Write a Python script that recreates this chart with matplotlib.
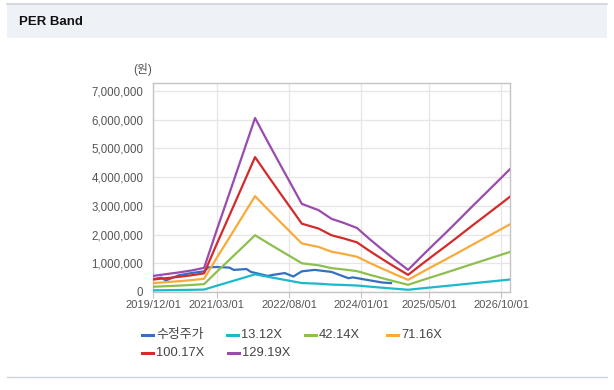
import matplotlib
matplotlib.use("Agg")
import matplotlib.pyplot as plt
import matplotlib.dates as mdates
from matplotlib.ticker import FuncFormatter, MultipleLocator
from matplotlib.patches import Rectangle
from matplotlib.lines import Line2D
import pandas as pd

plt.rcParams['font.family'] = ['Liberation Sans', 'Noto Sans CJK KR', 'DejaVu Sans']

# ---------------- data ----------------
band_dates = ["2019-12-01", "2020-03-01", "2020-06-01", "2020-09-01", "2020-12-01",
              "2021-03-01", "2021-06-01", "2021-09-01", "2021-12-01", "2022-03-01",
              "2022-06-01", "2022-09-01", "2022-11-01", "2023-03-01", "2023-06-01",
              "2023-09-01", "2023-12-01", "2024-03-01", "2024-06-01", "2024-09-01",
              "2024-12-01", "2025-03-01", "2025-06-01", "2025-09-01", "2025-12-01",
              "2026-03-01", "2026-06-01", "2026-09-01", "2026-12-01"]

per_13_12 = [57000, 63000, 69000, 76000, 85000, 218000, 350000, 483000, 615000, 532000,
             449000, 367000, 312000, 289000, 259000, 244000, 226000, 187000, 149000, 113000,
             78000, 123000, 168000, 211000, 256000, 301000, 345000, 390000, 435000]
per_42_14 = [183000, 202000, 222000, 245000, 274000, 701000, 1125000, 1553000, 1977000, 1709000,
             1442000, 1178000, 1001000, 930000, 832000, 783000, 727000, 600000, 480000, 362000,
             251000, 395000, 538000, 679000, 822000, 966000, 1109000, 1253000, 1396000]
per_71_16 = [308000, 341000, 375000, 413000, 463000, 1184000, 1900000, 2622000, 3338000, 2886000,
             2435000, 1988000, 1691000, 1570000, 1405000, 1322000, 1228000, 1013000, 810000, 611000,
             424000, 666000, 909000, 1146000, 1388000, 1630000, 1873000, 2115000, 2357000]
per_100_17 = [434000, 481000, 527000, 582000, 651000, 1667000, 2675000, 3691000, 4699000, 4063000,
              3427000, 2799000, 2380000, 2210000, 1977000, 1861000, 1729000, 1427000, 1140000, 861000,
              597000, 938000, 1279000, 1613000, 1954000, 2295000, 2636000, 2978000, 3319000]
per_129_19 = [560000, 620000, 680000, 750000, 840000, 2150000, 3450000, 4760000, 6060000, 5240000,
              4420000, 3610000, 3070000, 2850000, 2550000, 2400000, 2230000, 1840000, 1470000, 1110000,
              770000, 1210000, 1650000, 2080000, 2520000, 2960000, 3400000, 3840000, 4280000]

price_dates = ["2019-12-01", "2020-02-01", "2020-03-01", "2020-06-01", "2020-09-01",
               "2020-12-01", "2021-01-01", "2021-03-01", "2021-06-01", "2021-07-01",
               "2021-10-01", "2021-11-01", "2022-01-01", "2022-03-01", "2022-04-01",
               "2022-07-01", "2022-09-01", "2022-11-01", "2023-02-01", "2023-06-01",
               "2023-10-01", "2023-11-01", "2024-02-01", "2024-06-01", "2024-08-01"]
price = [450000, 500000, 400000, 580000, 660000, 720000, 860000, 870000, 850000, 770000,
         800000, 700000, 630000, 560000, 590000, 660000, 540000, 720000, 770000, 700000,
         480000, 510000, 430000, 330000, 310000]

tick_dates = ["2019-12-01", "2021-03-01", "2022-08-01", "2024-01-01", "2025-05-01", "2026-10-01"]
tick_labels = ["2019/12/01", "2021/03/01", "2022/08/01", "2024/01/01", "2025/05/01", "2026/10/01"]

series_names = ["수정주가", "13.12X", "42.14X", "71.16X", "100.17X", "129.19X"]
colors = ["#3370c4", "#1cb8cc", "#8dbf4f", "#f8aa3a", "#d42a2a", "#9a4bae"]

# ---------------- figure ----------------
W, H = 614, 390
fig = plt.figure(figsize=(W / 100, H / 100), dpi=100)
fig.patch.set_facecolor("white")

def fx(px):
    return px / W

def fy(py):
    return 1 - py / H

# header band
fig.patches.append(Rectangle((fx(7), fy(38)), fx(600), 35 / H, transform=fig.transFigure,
                             facecolor="#eef2f7", edgecolor="none", zorder=0))
fig.add_artist(Line2D([fx(7), fx(607)], [fy(3.5), fy(3.5)], transform=fig.transFigure,
                      color="#cfd3d8", lw=1.2))
fig.add_artist(Line2D([fx(7), fx(607)], [fy(376.5), fy(376.5)], transform=fig.transFigure,
                      color="#cfd3d8", lw=1.0))
fig.text(fx(19), fy(22), "PER Band", fontsize=9.5, fontweight="bold", color="#111111",
         va="center", ha="left")

# axes
ax = fig.add_axes([fx(153), fy(292), fx(510 - 153), (292 - 83) / H])
bd = pd.to_datetime(band_dates)
pdts = pd.to_datetime(price_dates)

all_series = [per_13_12, per_42_14, per_71_16, per_100_17, per_129_19]
ax.plot(pdts, price, color=colors[0], lw=1.6, zorder=3)
for s, c in zip(all_series, colors[1:]):
    ax.plot(bd, s, color=c, lw=1.6, zorder=3)

ax.set_xlim(pd.Timestamp("2019-12-01"), pd.Timestamp("2026-12-01"))
ax.set_ylim(0, 7280000)
ax.yaxis.set_major_locator(MultipleLocator(1000000))
ax.yaxis.set_major_formatter(FuncFormatter(lambda v, p: f"{int(v):,}"))
ax.set_xticks(pd.to_datetime(tick_dates))
ax.set_xticklabels(tick_labels)

ax.grid(True, color="#e6e6e6", lw=0.9, zorder=0)
ax.set_axisbelow(True)
for sp in ax.spines.values():
    sp.set_color("#c4c4c4")
    sp.set_linewidth(1.0)
ax.tick_params(axis="y", length=0, pad=7, labelsize=8.3, labelcolor="#555555")
ax.tick_params(axis="x", length=4, color="#c4c4c4", pad=2, labelsize=8.0, labelcolor="#555555")

fig.text(fx(133), fy(70), "(원)", fontsize=8.5, color="#555555", va="center", ha="left")

# legend (manual placement)
leg_items = [(0, 142, 335), (1, 227, 335), (2, 305, 335), (3, 387, 335),
             (4, 142, 353), (5, 228, 353)]
for i, x0, y0 in leg_items:
    fig.add_artist(Line2D([fx(x0), fx(x0 + 11)], [fy(y0), fy(y0)], transform=fig.transFigure,
                          color=colors[i], lw=2.2))
    fig.text(fx(x0 + 14), fy(y0), series_names[i], fontsize=9.3, color="#444444",
             va="center", ha="left")

fig.savefig("out.png", dpi=100, facecolor="white")
